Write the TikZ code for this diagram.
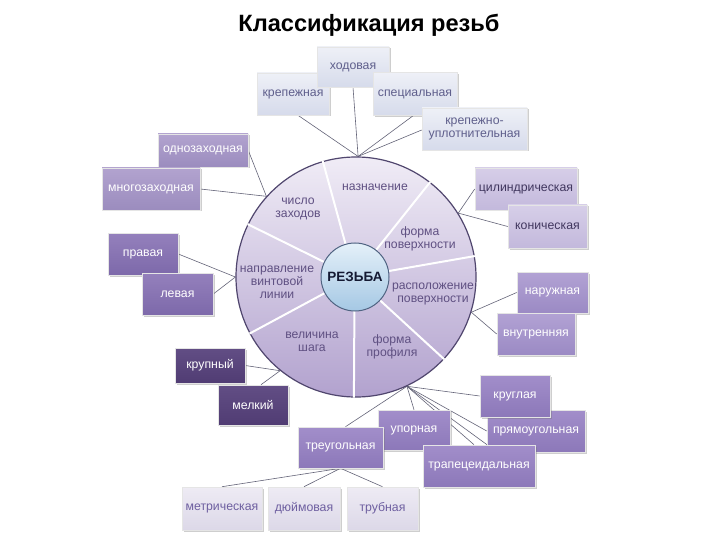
\documentclass[tikz,border=0pt]{standalone}
\usepackage{fontspec}
\setmainfont{Liberation Sans}
\usetikzlibrary{shadows,backgrounds}
\definecolor{circtext}{RGB}{95,80,130}
\definecolor{circtop}{RGB}{240,236,246}
\definecolor{circbot}{RGB}{178,162,206}
\definecolor{circline}{RGB}{80,70,110}
\definecolor{innertop}{RGB}{228,240,249}
\definecolor{innerbot}{RGB}{165,200,228}
\definecolor{innerline}{RGB}{80,100,130}
\definecolor{conncol}{RGB}{100,100,120}
\definecolor{tbA}{RGB}{238,240,247}\definecolor{tbB}{RGB}{214,219,235}\definecolor{tbT}{RGB}{95,95,140}
\definecolor{paA}{RGB}{178,163,207}\definecolor{paB}{RGB}{155,140,190}
\definecolor{lvA}{RGB}{214,206,232}\definecolor{lvB}{RGB}{195,185,220}\definecolor{lvT}{RGB}{65,55,95}
\definecolor{pbA}{RGB}{178,162,212}\definecolor{pbB}{RGB}{155,138,196}
\definecolor{pcA}{RGB}{148,128,188}\definecolor{pcB}{RGB}{125,105,170}
\definecolor{dkA}{RGB}{98,78,133}\definecolor{dkB}{RGB}{80,60,115}
\definecolor{pdA}{RGB}{162,142,202}\definecolor{pdB}{RGB}{140,120,185}
\definecolor{grA}{RGB}{238,235,244}\definecolor{grB}{RGB}{220,216,232}\definecolor{grT}{RGB}{110,95,160}
\tikzset{
  box/.style={rectangle, draw=white!80!gray, line width=0.6pt, inner sep=2pt,
    font=\fontsize{12.3}{13.2}\selectfont,
    drop shadow={shadow xshift=1.5pt, shadow yshift=-1.5pt, opacity=0.35, fill=black!55}},
  tbox/.style={box, top color=tbA, bottom color=tbB, text=tbT},
  pabox/.style={box, top color=paA, bottom color=paB, text=white},
  lvbox/.style={box, top color=lvA, bottom color=lvB, text=lvT},
  pbbox/.style={box, top color=pbA, bottom color=pbB, text=white},
  pcbox/.style={box, top color=pcA, bottom color=pcB, text=white},
  dkbox/.style={box, top color=dkA, bottom color=dkB, text=white},
  pdbox/.style={box, top color=pdA, bottom color=pdB, text=white},
  grbox/.style={box, top color=grA, bottom color=grB, text=grT},
  conn/.style={draw=conncol, line width=0.6pt},
  spoke/.style={draw=white, line width=2pt},
  clabel/.style={align=center, text=circtext, font=\fontsize{12.2}{12.8}\selectfont, inner sep=1pt},
}
\begin{document}
\begin{tikzpicture}[x=1pt,y=-1pt]
\useasboundingbox (0,0) rectangle (720,540);
% title
\node[font=\fontsize{23.6}{27}\selectfont\bfseries] (title) at (369,25) {Классификация резьб};
% main circle
\node[circle, minimum size=240pt, draw=circline, line width=1.2pt, top color=circtop, bottom color=circbot] (C) at (356,277) {};
\node[circle, minimum size=68pt, inner sep=0pt] (Rc) at (355,277) {};
\foreach \a in {106,52,10,-43,-91,208,154}{
  \draw[spoke] (Rc.\a) -- (C.\a);
}
\node[circle, minimum size=68pt, inner sep=0pt, draw=innerline, line width=1pt, top color=innertop, bottom color=innerbot,
  font=\fontsize{13.5}{15}\selectfont\bfseries, text={rgb,255:red,20;green,25;blue,50}] (R) at (355,277) {РЕЗЬБА};
\node[clabel] (l1) at (375,187) {назначение};
\node[clabel] (l2) at (298,209) {число\\заходов};
\node[clabel] (l3) at (420,239) {форма\\поверхности};
\node[clabel] (l4) at (277,282) {направление\\винтовой\\линии};
\node[clabel] (l5) at (433,294) {расположение\\поверхности};
\node[clabel] (l6) at (312,342) {величина\\шага};
\node[clabel] (l7) at (392,347) {форма\\профиля};
% top group
\node[tbox, minimum width=72pt, minimum height=42pt] (krep) at (293,94) {крепежная};
\node[tbox, minimum width=72pt, minimum height=40pt] (hod) at (353,67) {ходовая};
\node[tbox, minimum width=84pt, minimum height=43pt] (spec) at (415,94) {специальная};
\node[tbox, align=center, minimum width=105pt, minimum height=42pt] (kru) at (474.5,129) {крепежно-\\уплотнительная};
% left top
\node[pabox, minimum width=90pt, minimum height=33pt] (odno) at (203,150.5) {однозаходная};
\node[pabox, minimum width=98pt, minimum height=42pt] (mnogo) at (151,189) {многозаходная};
% right
\node[lvbox, minimum width=102pt, minimum height=42pt] (cyl) at (526,189) {цилиндрическая};
\node[lvbox, minimum width=79pt, minimum height=43pt] (kon) at (547.5,226.5) {коническая};
\node[pbbox, minimum width=71pt, minimum height=41pt] (nar) at (552.5,292.5) {наружная};
\node[pbbox, minimum width=78pt, minimum height=42pt] (vnu) at (536,334) {внутренняя};
% left
\node[pcbox, minimum width=70pt, minimum height=42pt] (prav) at (143,254) {правая};
\node[pcbox, minimum width=71pt, minimum height=42pt] (lev) at (177.5,294) {левая};
\node[dkbox, minimum width=70pt, minimum height=35pt] (krup) at (210,365.5) {крупный};
\node[dkbox, minimum width=70pt, minimum height=40pt] (mel) at (253,405) {мелкий};
% bottom group
\node[pdbox, minimum width=72pt, minimum height=40pt] (upor) at (414,430) {упорная};
\node[pdbox, minimum width=85pt, minimum height=41pt] (treu) at (340.5,447.5) {треугольная};
\node[pdbox, minimum width=98pt, minimum height=42pt] (pryam) at (536,431) {прямоугольная};
\node[pdbox, minimum width=70pt, minimum height=42pt] (krug) at (515,396) {круглая};
\node[pdbox, minimum width=112pt, minimum height=42pt] (trap) at (479,466) {трапецеидальная};
% bottom row
\node[grbox, minimum width=80pt, minimum height=43pt] (metr) at (222,508.5) {метрическая};
\node[grbox, minimum width=72pt, minimum height=43pt] (duim) at (304,508.5) {дюймовая};
\node[grbox, minimum width=71pt, minimum height=43pt] (trub) at (382.5,508.5) {трубная};
% connectors behind everything
\begin{pgfonlayer}{background}
\fill[white] (0,0) rectangle (720,540);
\coordinate (ctop) at (C.89);
\coordinate (cleft) at (C.138);
\coordinate (cright) at (C.32);
\coordinate (cright2) at (C.-17);
\coordinate (cmid) at (C.180);
\coordinate (clow) at (C.-129);
\coordinate (cbot) at (C.-65);
\draw[conn] ([xshift=5pt]krep.south) -- (ctop);
\draw[conn] (hod.south) -- (ctop);
\draw[conn] ([xshift=-2pt]spec.south) -- (ctop);
\draw[conn] ([yshift=-1pt]kru.west) -- (ctop);
\draw[conn] (odno.east) -- (cleft);
\draw[conn] (mnogo.east) -- (cleft);
\draw[conn] (cyl.west) -- (cright);
\draw[conn] (kon.west) -- (cright);
\draw[conn] (nar.west) -- (cright2);
\draw[conn] (vnu.west) -- (cright2);
\draw[conn] (prav.east) -- (cmid);
\draw[conn] (lev.east) -- (cmid);
\draw[conn] (krup.east) -- (clow);
\draw[conn] ([xshift=8pt]mel.north) -- (clow);
\draw[conn] (krug.west) -- (cbot);
\draw[conn] (pryam.west) -- (cbot);
\draw[conn] ([xshift=-5pt]trap.north) -- (cbot);
\draw[conn] ([xshift=8pt]trap.north) -- (cbot);
\draw[conn] (upor.north) -- (cbot);
\draw[conn] ([xshift=5pt]treu.north) -- (cbot);
\draw[conn] (treu.south) -- (metr.north);
\draw[conn] (treu.south) -- (duim.north);
\draw[conn] (treu.south) -- (trub.north);
\end{pgfonlayer}
\end{tikzpicture}
\end{document}
